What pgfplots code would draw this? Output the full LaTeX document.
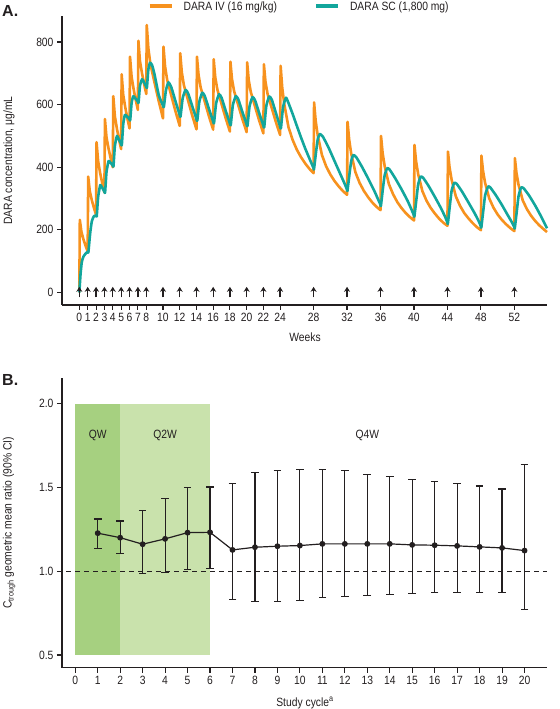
\documentclass[border=0pt]{standalone}
\usepackage{pgfplots}
\pgfplotsset{compat=1.18}
\usepackage{fontspec}
\setmainfont{Liberation Sans}[FakeStretch=0.86]
\newfontfamily\titlefont{Liberation Sans}
\usetikzlibrary{arrows.meta}
\definecolor{ivorange}{RGB}{247,146,30}
\definecolor{scteal}{RGB}{18,166,156}
\definecolor{ink}{RGB}{35,31,32}
\definecolor{qw}{RGB}{166,208,128}
\definecolor{qtw}{RGB}{201,226,172}
\newcommand\ff{\fontsize{12bp}{14bp}\selectfont}
\pgfplotsset{
 base/.style={
  scale only axis, width=485bp,
  axis lines=left, axis line style={-, line width=1.3bp, ink},
  tick align=outside, major tick length=5bp,
  tick style={line width=1.1bp, ink},
  tick label style={font=\ff, text=ink, /pgf/number format/assume math mode=true},
  label style={font=\ff, text=ink},
  clip=false,
 }
}
\begin{document}
\begin{tikzpicture}
% ---------- Panel A ----------
\begin{axis}[base, at={(62bp,404bp)}, anchor=south west, height=289bp,
 xmin=-2.07, xmax=55.9, ymin=-40, ymax=883,
 xtick={0,1,2,3,4,5,6,7,8,10,12,14,16,18,20,22,24,28,32,36,40,44,48,52},
 ytick={0,200,400,600,800},
 xlabel={Weeks}, ylabel={DARA concentration, μg/mL},
 xlabel style={at={(axis description cs:0.501,-0.111)}, anchor=center},
 ylabel style={at={(axis description cs:-0.109,0.5)}, anchor=center},
 legend style={draw=none, fill=none, at={(axis description cs:0.176,1.033)}, anchor=west,
   legend columns=2, font=\ff, text=ink, inner sep=0pt,
   /tikz/every odd column/.append style={column sep=8bp},
   /tikz/every even column/.append style={column sep=35bp}},
 legend image code/.code={\draw[#1, line width=4bp] (0bp,0bp) -- (22bp,0bp);},
]
\addplot[ivorange, line width=2.6bp, line join=round] coordinates {
(0,0) (0.06,232) (0.25,194) (0.5,169) (0.75,149) (1,131)
(1.06,370) (1.25,324) (1.5,294) (1.75,270) (2,248)
(2.06,480) (2.25,419) (2.5,380) (2.75,348) (3,319)
(3.06,554) (3.25,495) (3.5,459) (3.75,428) (4,400)
(4.06,627) (4.25,563) (4.5,522) (4.75,488) (5,458)
(5.06,697) (5.25,631) (5.5,590) (5.75,555) (6,524)
(6.06,753) (6.25,688) (6.5,648) (6.75,614) (7,583)
(7.06,804) (7.25,739) (7.5,699) (7.75,665) (8,634)
(8.06,854) (8.25,780) (8.5,729) (9,669) (9.5,610) (10,556)
(10.06,785) (10.25,722) (10.5,679) (11,628) (11.5,578) (12,532)
(12.06,764) (12.25,703) (12.5,662) (13,613) (13.5,565) (14,521)
(14.06,753) (14.25,695) (14.5,655) (15,609) (15.5,562) (16,520)
(16.06,745) (16.25,687) (16.5,648) (17,602) (17.5,556) (18,514)
(18.06,737) (18.25,681) (18.5,643) (19,598) (19.5,553) (20,512)
(20.06,735) (20.25,678) (20.5,640) (21,594) (21.5,549) (22,508)
(22.06,729) (22.25,673) (22.5,634) (23,589) (23.5,544) (24,503)
(24.06,724) (24.25,655) (24.5,601) (25,528) (25.5,487) (26,456) (26.5,432) (27,412) (27.5,395) (28,381)
(28.06,607) (28.25,548) (28.5,501) (29,439) (29.5,403) (30,377) (30.5,356) (31,339) (31.5,324) (32,312)
(32.06,545) (32.25,489) (32.5,443) (33,384) (33.5,350) (34,325) (34.5,305) (35,288) (35.5,274) (36,263)
(36.06,500) (36.25,446) (36.5,403) (37,346) (37.5,314) (38,289) (38.5,270) (39,254) (39.5,241) (40,230)
(40.06,471) (40.25,419) (40.5,378) (41,324) (41.5,293) (42,270) (42.5,252) (43,236) (43.5,223) (44,213)
(44.06,450) (44.25,400) (44.5,360) (45,307) (45.5,277) (46,254) (46.5,237) (47,222) (47.5,209) (48,199)
(48.06,437) (48.25,389) (48.5,350) (49,300) (49.5,271) (50,249) (50.5,232) (51,218) (51.5,206) (52,196)
(52.06,429) (52.25,382) (52.5,344) (53,294) (53.5,266) (54,245) (54.5,228) (55,214) (55.5,202) (55.9,193)
};
\addlegendentry{DARA IV (16 mg/kg)}
\addplot[scteal, line width=2.6bp, line join=round, smooth, tension=0.3] coordinates {
(0,0) (0.15,60) (0.3,98) (0.5,115) (0.75,124) (1,130)
(1.08,128) (1.3,190) (1.5,228) (1.75,244) (2,246)
(2.08,243) (2.25,305) (2.5,343) (2.7,336) (3,322)
(3.08,319) (3.25,385) (3.5,420) (3.7,415) (4,406)
(4.08,403) (4.25,468) (4.5,500) (4.7,490) (5,474)
(5.08,471) (5.25,538) (5.45,567) (5.7,562) (6,553)
(6.08,550) (6.25,605) (6.45,627) (6.7,620) (7,609)
(7.08,606) (7.25,660) (7.5,681) (7.7,673) (8,657)
(8.08,654) (8.25,712) (8.45,734) (8.7,726) (9,695) (9.5,630) (10,597)
(10.1,592) (10.35,645) (10.65,671) (11,655) (11.5,610) (12,567)
(12.1,562) (12.35,620) (12.7,647) (13,636) (13.5,595) (14,554)
(14.1,549) (14.35,610) (14.7,638) (15,627) (15.5,586) (16,546)
(16.1,541) (16.35,604) (16.7,633) (17,622) (17.5,580) (18,540)
(18.1,535) (18.35,598) (18.7,627) (19,617) (19.5,576) (20,537)
(20.1,532) (20.35,595) (20.7,624) (21,614) (21.5,573) (22,533)
(22.1,528) (22.35,596) (22.7,626) (23,616) (23.5,573) (24,530)
(24.1,525) (24.35,592) (24.7,622) (25,605) (25.5,570) (26,532) (26.5,495) (27,460) (27.5,428) (28,397)
(28.05,394) (28.3,450) (28.5,490) (28.75,506) (29.1,498) (29.75,465) (30.5,420) (31.25,375) (31.75,345) (32,328)
(32.05,325) (32.3,380) (32.5,420) (32.75,439) (33.1,432) (33.75,403) (34.5,365) (35.25,325) (35.75,295) (36,280)
(36.05,277) (36.3,335) (36.5,375) (36.8,397) (37.1,392) (37.75,365) (38.5,330) (39.25,292) (39.75,262) (40,246)
(40.05,243) (40.3,300) (40.5,345) (40.8,370) (41.1,366) (41.75,340) (42.5,305) (43.25,268) (43.75,240) (44,223)
(44.05,220) (44.3,280) (44.5,325) (44.8,350) (45.1,347) (45.75,322) (46.5,288) (47.25,253) (47.75,227) (48,211)
(48.05,208) (48.3,265) (48.5,310) (48.85,338) (49.1,336) (49.75,312) (50.5,280) (51.25,245) (51.75,222) (52,208)
(52.05,205) (52.3,262) (52.5,308) (52.8,335) (53.1,333) (53.75,310) (54.5,277) (55.25,240) (55.9,205)
};
\addlegendentry{DARA SC (1,800 mg)}
\addplot[ink, line width=1.3bp, -{Stealth[length=5bp, width=6bp]}, quiver={u=0, v=34}, forget plot] coordinates {
(0,-16) (1,-16) (2,-16) (3,-16) (4,-16) (5,-16) (6,-16) (7,-16) (8,-16)
(10,-16) (12,-16) (14,-16) (16,-16) (18,-16) (20,-16) (22,-16) (24,-16)
(28,-16) (32,-16) (36,-16) (40,-16) (44,-16) (48,-16) (52,-16)
};
\end{axis}
% ---------- Panel B ----------
\begin{axis}[base, at={(62bp,41.3bp)}, anchor=south west, height=289.7bp,
 xmin=-0.59, xmax=21, ymin=0.424, ymax=2.153,
 xtick={0,1,...,20}, ytick={0.5,1,1.5,2},
 yticklabel style={/pgf/number format/.cd, fixed, fixed zerofill, precision=1},
 xlabel={Study cycle\textsuperscript{a}},
 ylabel={C\textsubscript{trough} geometric mean ratio (90\% CI)},
 xlabel style={at={(axis description cs:0.501,-0.122)}, anchor=center},
 ylabel style={at={(axis description cs:-0.109,0.5)}, anchor=center},
]
\addplot[fill=qw, draw=none] coordinates {(0,0.5) (2,0.5) (2,2) (0,2)} -- cycle;
\addplot[fill=qtw, draw=none] coordinates {(2,0.5) (6,0.5) (6,2) (2,2)} -- cycle;
\addplot[ink, line width=1.2bp, dashed, dash pattern=on 5bp off 4bp] coordinates {(-0.4,1) (21,1)};
\node[font=\ff, text=ink] at (axis cs:1,1.81) {QW};
\node[font=\ff, text=ink] at (axis cs:4,1.81) {Q2W};
\node[font=\ff, text=ink] at (axis cs:13,1.81) {Q4W};
\addplot[ink, line width=1.2bp, mark=*, mark size=2.3bp, mark options={ink},
 error bars/.cd, y dir=both, y explicit,
 error bar style={line width=1.2bp, ink},
 error mark options={rotate=90, line width=1.2bp, ink, mark size=3.8bp}]
 table[x=c, y=m, y error plus=ep, y error minus=em] {
c m ep em
1 1.227 0.085 0.090
2 1.200 0.100 0.093
3 1.161 0.203 0.173
4 1.193 0.243 0.199
5 1.230 0.270 0.222
6 1.232 0.271 0.218
7 1.127 0.394 0.294
8 1.143 0.448 0.324
9 1.149 0.451 0.330
10 1.153 0.453 0.330
11 1.163 0.443 0.322
12 1.163 0.437 0.316
13 1.163 0.413 0.310
14 1.163 0.400 0.304
15 1.157 0.392 0.292
16 1.155 0.378 0.284
17 1.151 0.370 0.280
18 1.145 0.364 0.270
19 1.139 0.352 0.264
20 1.123 0.513 0.354
};
\end{axis}
\node[font=\titlefont\bfseries\fontsize{16bp}{17bp}\selectfont, text=ink, anchor=north west, inner sep=0pt] at (2bp,704bp) {A.};
\node[font=\titlefont\bfseries\fontsize{16bp}{17bp}\selectfont, text=ink, anchor=north west, inner sep=0pt] at (2bp,335bp) {B.};
\pgfresetboundingbox
\useasboundingbox (0bp,0bp) rectangle (560bp,709bp);
\end{tikzpicture}
\end{document}
